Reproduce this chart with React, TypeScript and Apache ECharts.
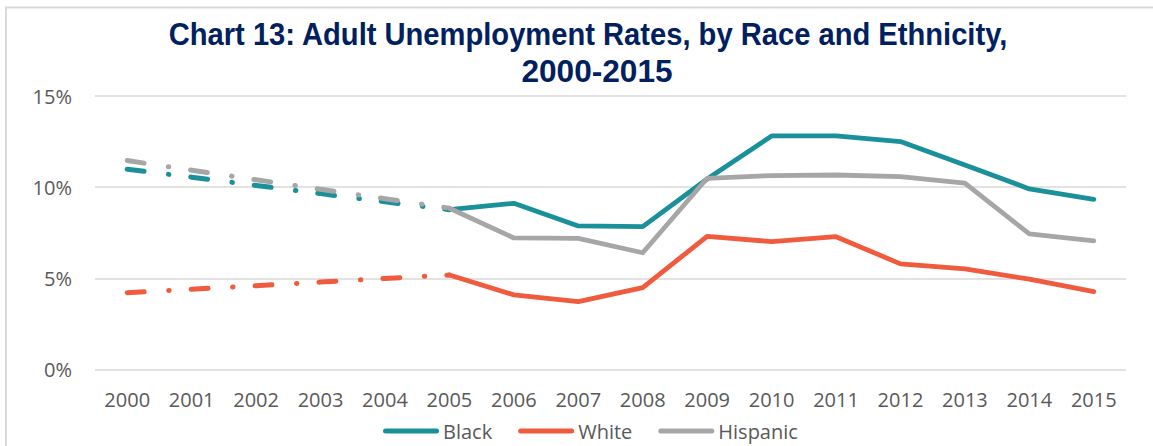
import React, { useEffect, useRef } from "react";
import * as echarts from "echarts";

const years = ["2000","2001","2002","2003","2004","2005","2006","2007","2008","2009","2010","2011","2012","2013","2014","2015"];
const blackRates = [10.99, 10.55, 10.1, 9.65, 9.2, 8.77, 9.12, 7.88, 7.84, 10.45, 12.81, 12.81, 12.5, 11.22, 9.91, 9.34];
const whiteRates = [4.22, 4.41, 4.6, 4.8, 5.0, 5.19, 4.1, 3.73, 4.5, 7.31, 7.02, 7.29, 5.8, 5.52, 4.96, 4.28];
const hispanicRates = [11.46, 10.93, 10.41, 9.89, 9.37, 8.85, 7.22, 7.2, 6.41, 10.49, 10.64, 10.67, 10.58, 10.22, 7.44, 7.06];
const yTicks = [0, 5, 10, 15];
const splitYearIndex = 5; // dashed up to 2005, solid from 2005

const titleLine1 = "Chart 13: Adult Unemployment Rates, by Race and Ethnicity,";
const titleLine2 = "2000-2015";

const COLORS = { Black: "#1A909A", White: "#F15B3D", Hispanic: "#A6A6A6" };
const FONT = "'Open Sans', 'Noto Sans', sans-serif";
const TITLE_FONT = "'Liberation Sans', Arial, sans-serif";

function solidPart(arr: number[]) {
  return arr.map((v, i) => (i >= splitYearIndex ? v : "-"));
}
function dashedPart(arr: number[]) {
  return arr.map((v, i) => (i <= splitYearIndex ? v : "-"));
}

export default function App() {
  const ref = useRef<HTMLDivElement>(null);
  useEffect(() => {
    if (!ref.current) return;
    const chart = echarts.init(ref.current, null, { renderer: "svg" });
    const seriesDefs = [
      { name: "Black", data: blackRates },
      { name: "White", data: whiteRates },
      { name: "Hispanic", data: hispanicRates },
    ];
    const series: any[] = [];
    seriesDefs.forEach((s) => {
      const color = (COLORS as any)[s.name];
      series.push({
        name: s.name + " (dashed)",
        type: "line",
        data: dashedPart(s.data),
        symbol: "none",
        color,
        lineStyle: { color, width: 5, type: [17, 24.5, 0.5, 22], cap: "round", join: "round" },
        z: 2,
      });
    });
    seriesDefs.forEach((s) => {
      const color = (COLORS as any)[s.name];
      series.push({
        name: s.name,
        type: "line",
        data: solidPart(s.data),
        symbol: "none",
        color,
        lineStyle: { color, width: 4.8, cap: "round", join: "round" },
        z: 3,
      });
    });
    chart.setOption({
      animation: false,
      grid: { left: 95, right: 27, top: 96, bottom: 76.3, containLabel: false },
      xAxis: {
        type: "category",
        data: years,
        boundaryGap: true,
        axisLine: { show: false },
        axisTick: { show: false },
        axisLabel: { color: "#595959", fontSize: 20, fontFamily: FONT, margin: 20 },
      },
      yAxis: {
        type: "value",
        min: yTicks[0],
        max: yTicks[yTicks.length - 1],
        interval: 5,
        axisLine: { show: false },
        axisTick: { show: false },
        axisLabel: { color: "#595959", fontSize: 20, fontFamily: FONT, margin: 23, formatter: "{value}%" },
        splitLine: { lineStyle: { color: "#D9D9D9", width: 1.5 } },
      },
      legend: {
        data: ["Black", "White", "Hispanic"],
        left: 378,
        top: 416,
        icon: "path://M2.5,0 H53.5 A2.5,2.5 0 0 1 53.5,5 H2.5 A2.5,2.5 0 0 1 2.5,0 Z",
        itemWidth: 56,
        itemHeight: 5,
        itemGap: 26,
        textStyle: { color: "#595959", fontSize: 20, fontFamily: FONT, padding: [0, 0, 0, -1] },
      },
      graphic: [
        {
          type: "rect",
          shape: { x: 6, y: 7.5, width: 2000, height: 1000 },
          style: { fill: "none", stroke: "#D9D9D9", lineWidth: 2 },
          silent: true,
        },
        {
          type: "text",
          x: 588,
          y: 50,
          scaleX: 0.94,
          style: {
            text: titleLine1,
            fill: "#002060",
            font: "bold 31px " + TITLE_FONT,
            textAlign: "center",
            textVerticalAlign: "bottom",
          },
        },
        {
          type: "text",
          x: 597,
          y: 87,
          scaleX: 1.02,
          style: {
            text: titleLine2,
            fill: "#002060",
            font: "bold 31px " + TITLE_FONT,
            textAlign: "center",
            textVerticalAlign: "bottom",
          },
        },
      ],
      series,
    });
    return () => chart.dispose();
  }, []);
  return <div ref={ref} style={{ position: "absolute", left: 0, top: 0, width: 1153, height: 446 }} />;
}
